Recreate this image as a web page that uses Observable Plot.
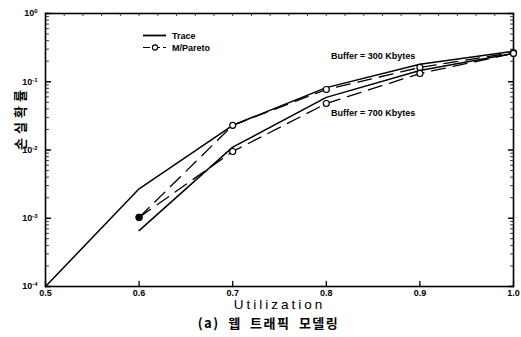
<!DOCTYPE html>
<html><head><meta charset="utf-8">
<script src="https://cdn.jsdelivr.net/npm/d3@7"></script>
<script src="https://cdn.jsdelivr.net/npm/@observablehq/plot@0.6"></script>
<style>
body{margin:0;background:#fff;font-family:"Liberation Sans",Arial,sans-serif;}
#wrap{position:relative;width:521px;height:337px;}
#legend{position:absolute;left:140px;top:29px;}
</style></head><body><div id="wrap"><div id="chart"></div><svg id="legend" width="90" height="26"></svg></div>
<script>
// ---- data ----
const traceUtil300 = [0.5, 0.6, 0.7, 0.8, 0.9, 1.0];
const trace300 = [1e-4, 2.7e-3, 0.023, 0.082, 0.18, 0.28];
const traceUtil700 = [0.6, 0.7, 0.8, 0.9, 1.0];
const trace700 = [6.6e-4, 0.011, 0.059, 0.146, 0.26];
const paretoUtil = [0.6, 0.7, 0.8, 0.9, 1.0];
const pareto300 = [1.03e-3, 0.023, 0.077, 0.162, 0.268];
const pareto700 = [1.03e-3, 0.0095, 0.048, 0.132, 0.26];
const xTicks = [0.5, 0.6, 0.7, 0.8, 0.9, 1.0];
const yTicks = [1e-4, 1e-3, 1e-2, 1e-1, 1];
const yTickExp = ["-4", "-3", "-2", "-1", "0"];
const annotations = [
  {x: 0.805, y: 0.234, text: "Buffer = 300 Kbytes"},
  {x: 0.805, y: 0.0343, text: "Buffer = 700 Kbytes"}
];
const legendLabels = ["Trace", "M/Pareto"];
const xLabel = "Utilization";
const yLabel = "손실확률";
const caption = "(a) 웹 트래픽 모델링";

const t300 = traceUtil300.map((u, i) => ({u, v: trace300[i]}));
const t700 = traceUtil700.map((u, i) => ({u, v: trace700[i]}));
const p300 = paretoUtil.map((u, i) => ({u, v: pareto300[i]}));
const p700 = paretoUtil.map((u, i) => ({u, v: pareto700[i]}));
const minorY = [];
for (let k = -4; k < 0; k++) for (let m = 2; m <= 9; m++) minorY.push(m * Math.pow(10, k));
const minorX = d3.range(0.52, 0.99, 0.02).map(d => +d.toFixed(2));

const W = 521, H = 337, ML = 45, MR = 8, MT = 13, MB = 51;
const FW = W - ML - MR, FH = H - MT - MB;
const xDom = [0.5, 1.0], yDom = [1e-4, 1];
const dxU = px => px * (xDom[1] - xDom[0]) / FW;
const dyF = px => Math.pow(10, px * 4 / FH);

// tick segments as two-point polylines (one z per tick)
const ySeg = (vals, px, tag) => vals.flatMap((v, i) => [
  {x: xDom[0], y: v, z: tag + "L" + i}, {x: xDom[0] + dxU(px), y: v, z: tag + "L" + i},
  {x: xDom[1], y: v, z: tag + "R" + i}, {x: xDom[1] - dxU(px), y: v, z: tag + "R" + i}
]);
const xSeg = (vals, px, top, tag) => vals.flatMap((v, i) => top
  ? [{x: v, y: yDom[1], z: tag + i}, {x: v, y: yDom[1] / dyF(px), z: tag + i}]
  : [{x: v, y: yDom[0], z: tag + i}, {x: v, y: yDom[0] * dyF(px), z: tag + i}]);

const plot = Plot.plot({
  width: W, height: H,
  marginLeft: ML, marginRight: MR, marginTop: MT, marginBottom: MB,
  style: {fontFamily: "'Liberation Sans', Arial, sans-serif", background: "#fff", color: "#000"},
  x: {domain: xDom},
  y: {type: "log", domain: yDom},
  marks: [
    Plot.axisX({ticks: xTicks, tickSize: 0, tickPadding: 3, tickFormat: d3.format(".1f"), fontSize: 9, fontWeight: "bold", label: null}),
    Plot.axisY({ticks: yTicks, tickSize: 0, tickPadding: 8, tickFormat: () => "10", fontSize: 9, fontWeight: "bold", label: null}),
    Plot.frame({stroke: "#000", strokeWidth: 1.6}),
    // inward ticks
    Plot.line(xSeg(xTicks, 5, false, "xb"), {x: "x", y: "y", z: "z", stroke: "#000", strokeWidth: 1.3}),
    Plot.line(xSeg(minorX, 2, true, "xt"), {x: "x", y: "y", z: "z", stroke: "#000", strokeWidth: 0.8}),
    Plot.line(ySeg(yTicks, 5, "ym"), {x: "x", y: "y", z: "z", stroke: "#000", strokeWidth: 1.3}),
    Plot.line(ySeg(minorY, 3, "yn"), {x: "x", y: "y", z: "z", stroke: "#000", strokeWidth: 0.8}),
    Plot.line(t300, {x: "u", y: "v", stroke: "#000", strokeWidth: 1.5}),
    Plot.line(t700, {x: "u", y: "v", stroke: "#000", strokeWidth: 1.5}),
    Plot.line(p300, {x: "u", y: "v", stroke: "#000", strokeWidth: 1.3, strokeDasharray: "14,8"}),
    Plot.line(p700, {x: "u", y: "v", stroke: "#000", strokeWidth: 1.3, strokeDasharray: "14,8"}),
    Plot.dot(p300, {x: "u", y: "v", r: 3, stroke: "#000", fill: "#fff", strokeWidth: 1.2}),
    Plot.dot(p700, {x: "u", y: "v", r: 3, stroke: "#000", fill: "#fff", strokeWidth: 1.2}),
    Plot.dot(p300.slice(0, 1), {x: "u", y: "v", r: 3, symbol: "square", fill: "#000"}),
    Plot.text(annotations, {x: "x", y: "y", text: "text", textAnchor: "start", fontSize: 9, fontWeight: "bold"}),
    Plot.text([xLabel], {frameAnchor: "bottom", dy: 22, fontSize: 13.5, fontWeight: "normal", text: d => d}),
    Plot.text([caption], {frameAnchor: "bottom", dy: 41, dx: -11, fontSize: 13, fontWeight: "bold", fontFamily: "'Noto Sans CJK KR', sans-serif", text: d => d}),
    Plot.text([yLabel], {frameAnchor: "left", dx: -25, dy: 0, rotate: -90, fontSize: 13, fontWeight: "bold", fontFamily: "'Noto Sans CJK KR', sans-serif", text: d => d})
  ]
});
document.getElementById("chart").appendChild(plot);

d3.select(plot).selectAll("text").each(function() {
  const t = this.textContent;
  if (t === xLabel) this.style.letterSpacing = "3px";
  if (t === caption) { this.style.letterSpacing = "1.5px"; this.style.wordSpacing = "4px"; }
  if (t === yLabel) this.style.letterSpacing = "4px";
});

d3.select(plot).selectAll('g[aria-label="y-axis tick label"] text').each(function(d, i) {
  d3.select(this).append("tspan").attr("dy", "-0.5em").attr("font-size", 6).text(yTickExp[i]);
});

const lg = d3.select("#legend");
lg.append("line").attr("x1", 3).attr("x2", 26).attr("y1", 6.5).attr("y2", 6.5).attr("stroke", "#000").attr("stroke-width", 1.8);
lg.append("line").attr("x1", 3).attr("x2", 26).attr("y1", 18.5).attr("y2", 18.5).attr("stroke", "#000").attr("stroke-width", 1.2).attr("stroke-dasharray", "7,3");
lg.append("circle").attr("cx", 15).attr("cy", 18.5).attr("r", 2.6).attr("fill", "#fff").attr("stroke", "#000").attr("stroke-width", 1.1);
legendLabels.forEach((s, i) => lg.append("text").attr("x", 32).attr("y", 10 + 12 * i).attr("font-size", 9).attr("font-weight", "bold").attr("font-family", "'Liberation Sans', Arial, sans-serif").text(s));
</script></body></html>
